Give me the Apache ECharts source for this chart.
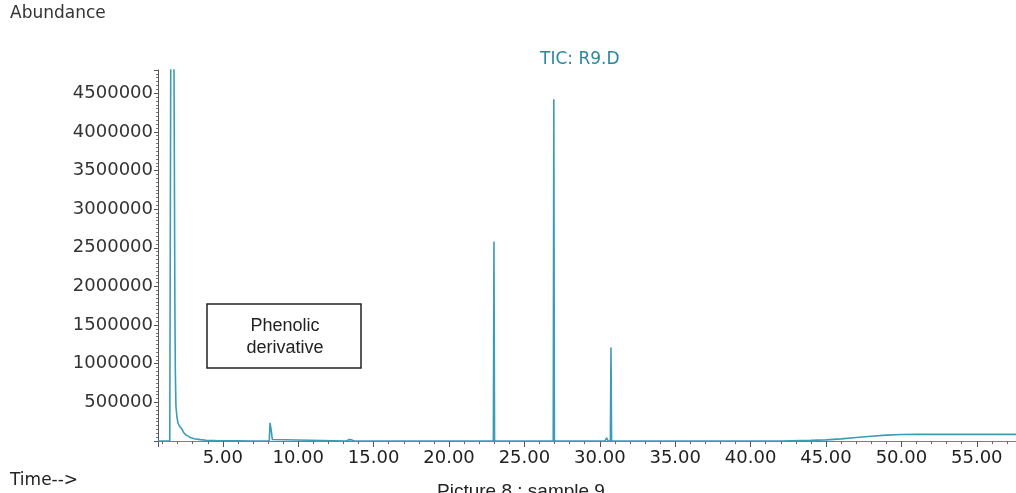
<!DOCTYPE html>
<html>
<head>
<meta charset="utf-8">
<script src="https://cdn.jsdelivr.net/npm/echarts@6/dist/echarts.min.js"></script>
<style>
  html, body { margin: 0; padding: 0; background: #fff; }
  #chart { width: 1016px; height: 493px; }
</style>
</head>
<body>
<div id="chart"></div>
<script>
// retention time (min) and abundance
const times = [
  0.70, 1.48, 1.56, 1.66, 1.74, 1.82, 1.85, 1.89, 1.95, 2.02, 2.10, 2.20, 2.30, 2.40, 2.55, 2.80,
  3.10, 3.50, 3.90, 4.50, 5.00, 6.00, 7.00,
  8.08, 8.13, 8.20, 8.28, 8.40,
  13.20, 13.35, 13.45, 13.55, 13.70,
  20.10, 20.20, 20.30,
  22.94, 22.98, 23.02,
  26.91, 26.95, 26.99,
  30.35, 30.45, 30.55, 30.70, 30.74, 30.78,
  42.00, 44.00, 45.00, 46.00, 47.00, 48.00, 49.00, 50.00, 51.00, 57.60
]
const abundance = [
  0, 0, 6000000, 6000000, 6000000, 1750000, 900000, 450000, 320000, 240000, 200000, 190000, 150000, 110000, 80000, 50000,
  30000, 18000, 10000, 6000, 4000, 2000, 0,
  0, 235000, 150000, 20000, 0,
  0, 18000, 8000, 15000, 0,
  0, 15000, 0,
  0, 2580000, 0,
  0, 4420000, 0,
  0, 40000, 0, 0, 1210000, 0,
  0, 8000, 15000, 28000, 45000, 62000, 76000, 84000, 86000, 86000
]

const yTicks = [500000, 1000000, 1500000, 2000000, 2500000, 3000000, 3500000, 4000000, 4500000]

const lineColor = '#3a9db5'
const labelFont = 'DejaVu Sans'

const chart = echarts.init(document.getElementById('chart'))

chart.setOption({
  animation: false,
  backgroundColor: '#fff',
  grid: { left: 158, right: 0, top: 70, bottom: 52 },
  xAxis: {
    type: 'value',
    min: 0.7,
    max: 57.6,
    splitNumber: 11,
    axisLine: { lineStyle: { color: '#4a8fa3', width: 1 } },
    axisTick: { show: true, length: 6, lineStyle: { color: '#555' } },
    minorTick: { show: true, splitNumber: 5, length: 3, lineStyle: { color: '#666' } },
    splitLine: { show: false },
    axisLabel: {
      margin: 8,
      color: '#222',
      fontFamily: labelFont,
      fontSize: 18,
      showMinLabel: false,
      showMaxLabel: false,
      formatter: v => v.toFixed(2)
    }
  },
  yAxis: {
    type: 'value',
    min: 0,
    max: 4800000,
    interval: 500000,
    axisLine: { show: true, lineStyle: { color: '#555', width: 1 } },
    axisTick: { show: true, length: 4, lineStyle: { color: '#555' } },
    minorTick: { show: true, splitNumber: 10, length: 2, lineStyle: { color: '#777' } },
    splitLine: { show: false },
    axisLabel: {
      margin: 5,
      color: '#333',
      fontFamily: labelFont,
      fontSize: 18,
      showMinLabel: false,
      showMaxLabel: false,
      formatter: v => (yTicks.indexOf(v) >= 0 ? String(v) : '')
    }
  },
  series: [{
    type: 'line',
    data: times.map((t, i) => [t, abundance[i]]),
    showSymbol: false,
    clip: true,
    lineStyle: { color: lineColor, width: 1.6 }
  }],
  graphic: [
    {
      type: 'text', left: 10, top: 5,
      style: { text: 'Abundance', fill: '#333', font: '17px "DejaVu Sans"' }
    },
    {
      type: 'text', left: 10, top: 472,
      style: { text: 'Time-->', fill: '#222', font: '17px "DejaVu Sans"' }
    },
    {
      type: 'text', left: 540, top: 51,
      style: { text: 'TIC: R9.D', fill: '#2a87a0', font: '17px "DejaVu Sans"' }
    },
    {
      type: 'rect',
      shape: { x: 207, y: 304, width: 154, height: 64 },
      style: { fill: '#fff', stroke: '#222', lineWidth: 1.5 }
    },
    {
      type: 'text', x: 285, y: 337,
      style: {
        text: 'Phenolic\nderivative',
        fill: '#222',
        font: '18px "Liberation Sans"',
        align: 'center',
        verticalAlign: 'middle',
        lineHeight: 22
      }
    },
    {
      type: 'text', left: 437, top: 482,
      style: { text: 'Picture 8 : sample 9', fill: '#222', font: '19px "Liberation Sans"' }
    }
  ]
})
</script>
</body>
</html>
